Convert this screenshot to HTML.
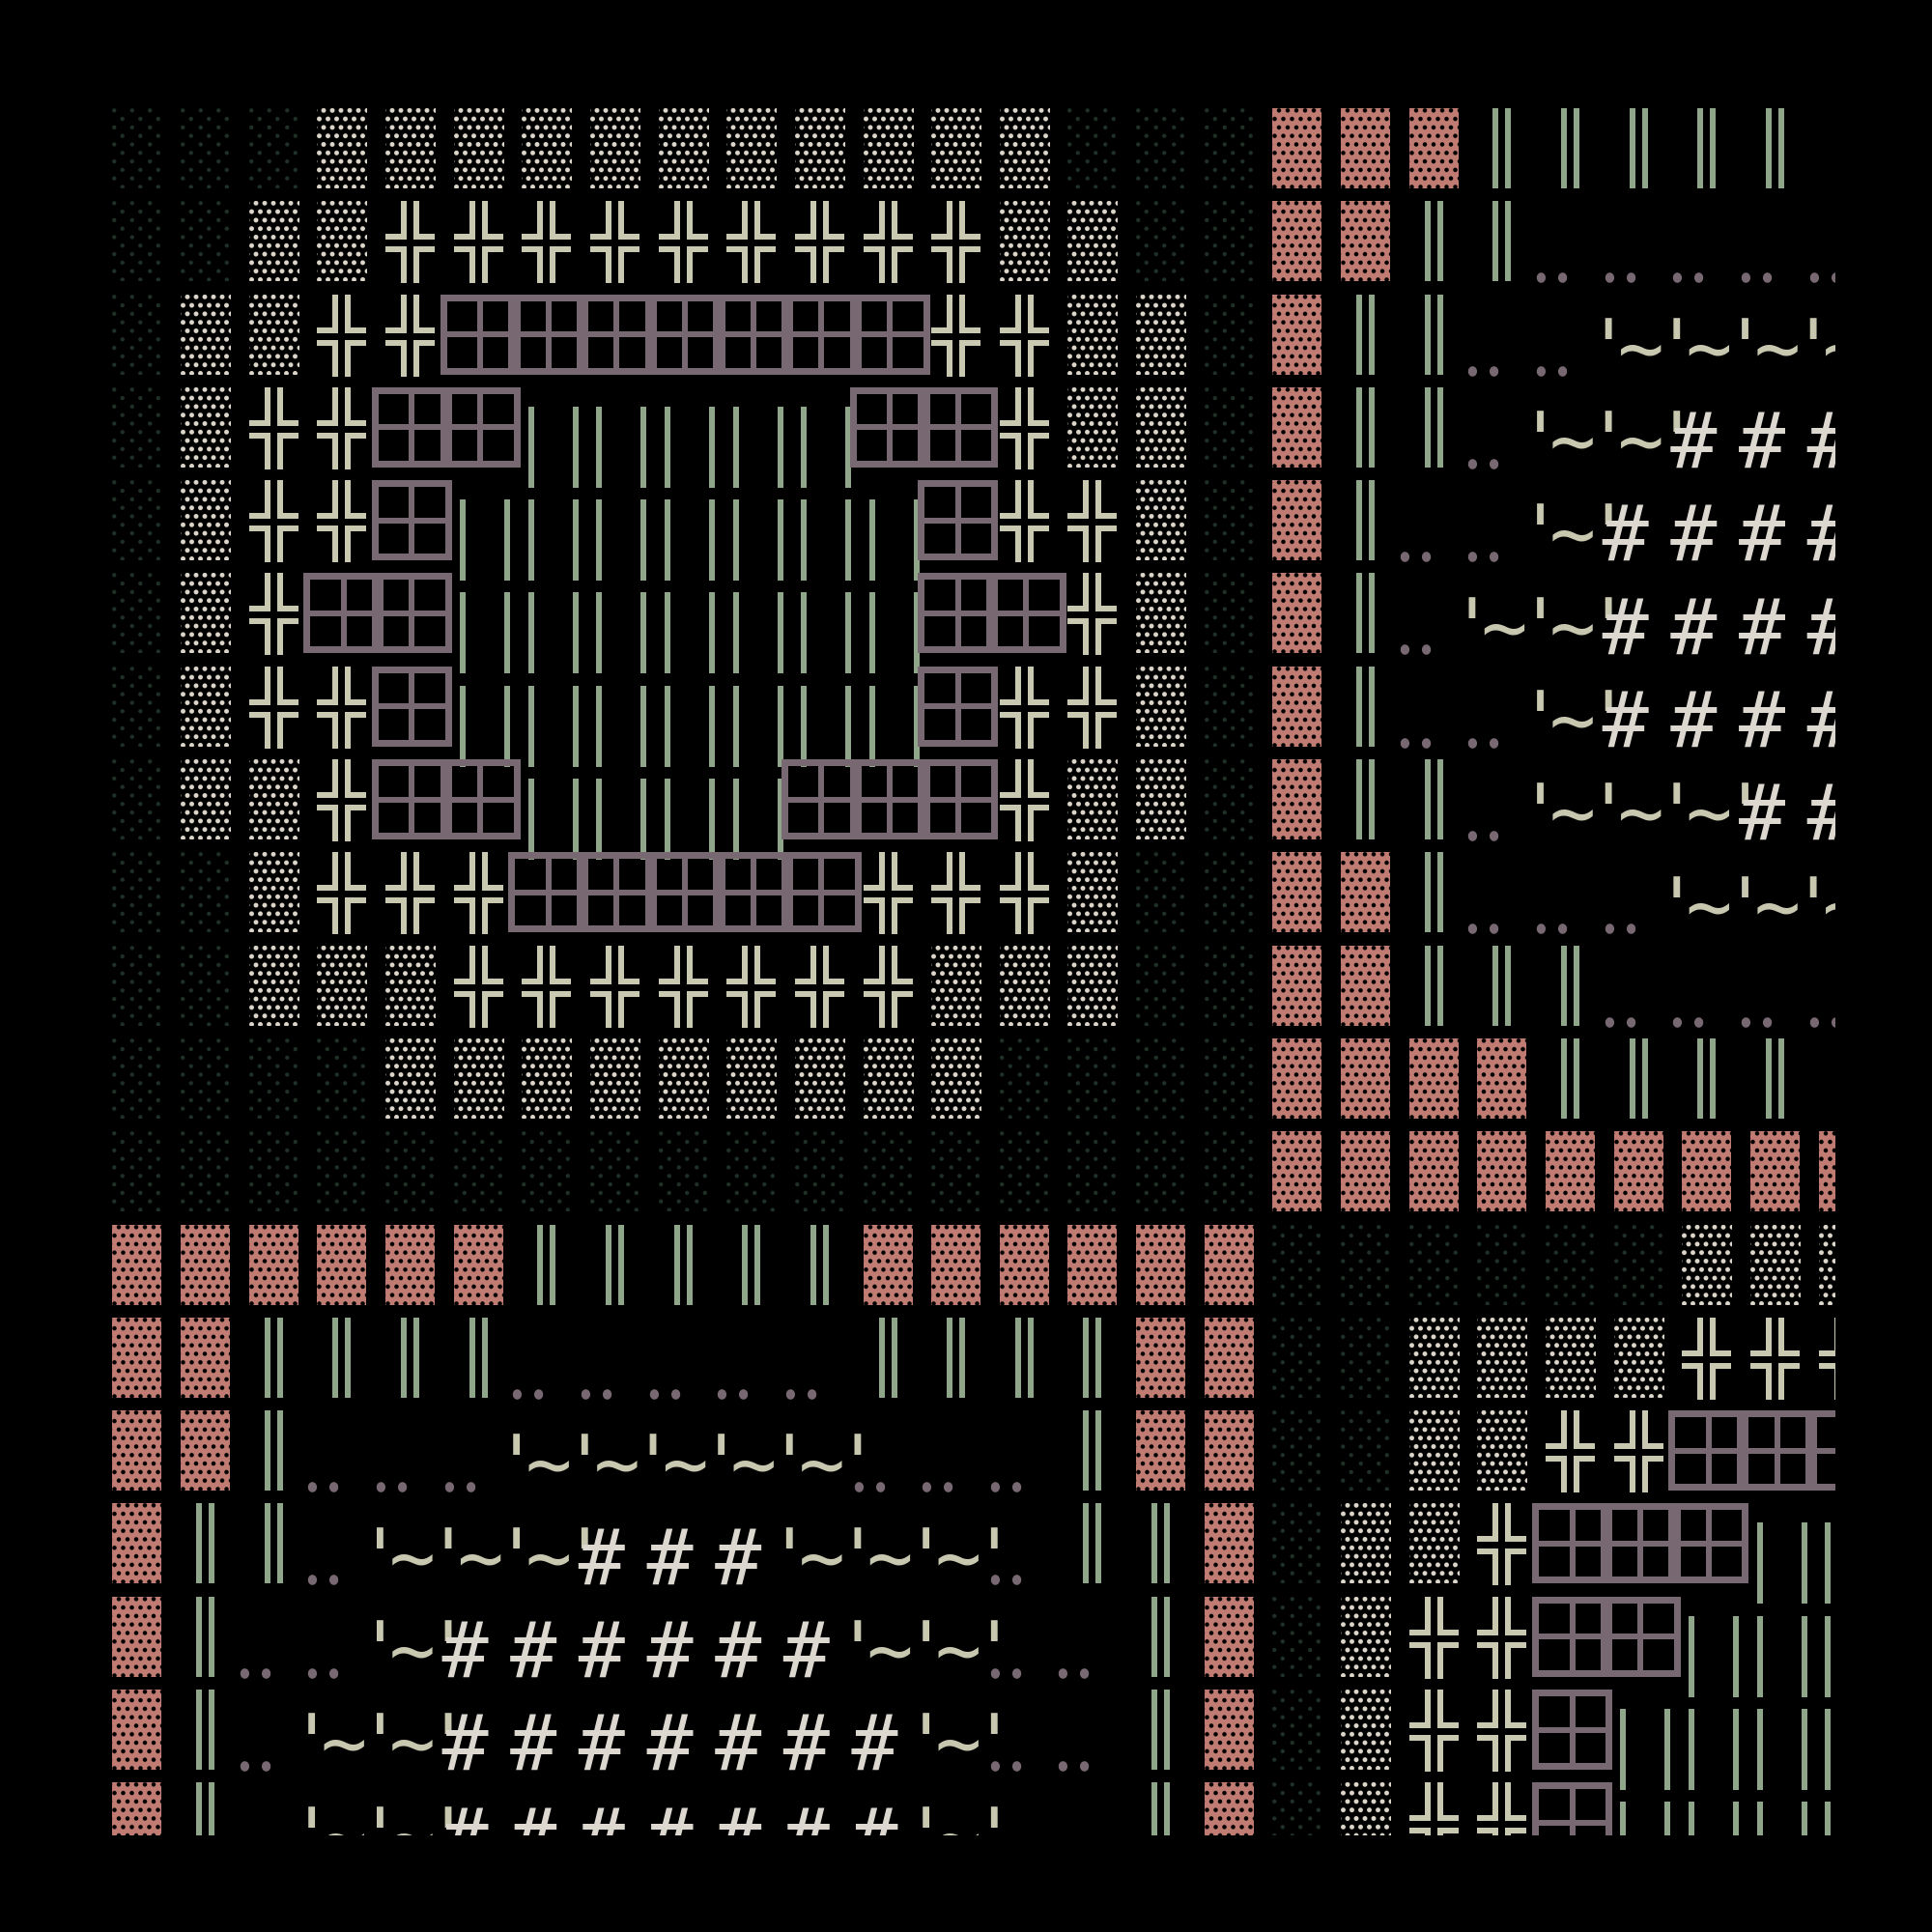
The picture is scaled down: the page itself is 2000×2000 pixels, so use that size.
<!DOCTYPE html>
<html><head><meta charset="utf-8"><style>
html,body{margin:0;padding:0;background:#000;}
body{width:2000px;height:2000px;overflow:hidden;position:relative;}
#g{position:absolute;left:102.3px;top:112px;width:1797.7px;height:1788px;overflow:hidden;display:grid;grid-template-columns:repeat(26,70.66px);grid-template-rows:repeat(19,96.3px);}
#g i{display:block;position:relative;font-style:normal;}
#g i::before{content:"";position:absolute;}
#g i:not([class])::before{display:none}
.d::before{left:14px;top:0;width:52px;height:83px;background:radial-gradient(circle,#1f3026 1.9px,#0000 2.4px) -7px -6.5px/18.5px 17.6px,radial-gradient(circle,#1f3026 1.9px,#0000 2.4px) 1.5px 2.3px/18.5px 17.6px;}
.w::before{left:14px;top:0;width:52px;height:83px;background:radial-gradient(circle,#dcd6ca 2.2px,#0000 2.7px) 2.5px -6.5px/9px 17.6px,radial-gradient(circle,#dcd6ca 2.2px,#0000 2.7px) -2px 2.3px/9px 17.6px;}
.p::before{left:14px;top:0;width:51px;height:83px;background:radial-gradient(circle,#000 2px,#0000 2.5px) 2.5px -6.5px/9px 17.6px,radial-gradient(circle,#000 2px,#0000 2.5px) -2px 2.3px/9px 17.6px,#c07c72;}
.x::before{left:0;top:0;width:70px;height:86px;background:
linear-gradient(#c9c8b0,#c9c8b0) 30px 0/6px 40px no-repeat,
linear-gradient(#c9c8b0,#c9c8b0) 43px 0/6px 40px no-repeat,
linear-gradient(#c9c8b0,#c9c8b0) 14px 34px/22px 6px no-repeat,
linear-gradient(#c9c8b0,#c9c8b0) 43px 34px/22px 6px no-repeat,
linear-gradient(#c9c8b0,#c9c8b0) 14px 47px/22px 6px no-repeat,
linear-gradient(#c9c8b0,#c9c8b0) 43px 47px/22px 6px no-repeat,
linear-gradient(#c9c8b0,#c9c8b0) 30px 47px/6px 38px no-repeat,
linear-gradient(#c9c8b0,#c9c8b0) 43px 47px/6px 38px no-repeat;}
.b::before{left:0;top:0;width:83px;height:83px;box-sizing:border-box;border:7px solid #786872;background:linear-gradient(#786872,#786872) center/6px 100% no-repeat,linear-gradient(#786872,#786872) center/100% 6px no-repeat;}
.v::before{left:30px;top:0;width:19px;height:83px;background:linear-gradient(#90a68a,#90a68a) 0 0/6px 100% no-repeat,linear-gradient(#90a68a,#90a68a) 13px 0/6px 100% no-repeat;}
.m::before{left:20.5px;top:20px;width:52px;height:84px;background:linear-gradient(#90a68a,#90a68a) 0 0/6px 100% no-repeat,linear-gradient(#90a68a,#90a68a) 46px 0/6px 100% no-repeat;}
.o::before{left:4px;top:74px;width:33px;height:11px;background:radial-gradient(4.8px 5.5px at 5.4px 5.5px,#786872 92%,#0000 100%),radial-gradient(4.8px 5.5px at 27.6px 5.5px,#786872 92%,#0000 100%);}
#g s,#g u,#g b{position:absolute;top:16.3px;width:48.2px;height:80px;text-align:center;font:normal 80px/80px "DejaVu Sans Mono","Liberation Mono",monospace;text-decoration:none;}
#g s{left:-15.6px;color:#c8c8b0;}
#g u{left:17.9px;color:#c8c8b0;}
#g b{left:1.9px;color:#dcd8d0;}
</style></head><body>
<div id="g">
<!-- R0 -->
<i class=d></i><i class=d></i><i class=d></i><i class=w></i><i class=w></i><i class=w></i><i class=w></i><i class=w></i><i class=w></i><i class=w></i><i class=w></i><i class=w></i><i class=w></i><i class=w></i><i class=d></i><i class=d></i><i class=d></i><i class=p></i><i class=p></i><i class=p></i><i class=v></i><i class=v></i><i class=v></i><i class=v></i><i class=v></i><i></i>
<!-- R1 -->
<i class=d></i><i class=d></i><i class=w></i><i class=w></i><i class=x></i><i class=x></i><i class=x></i><i class=x></i><i class=x></i><i class=x></i><i class=x></i><i class=x></i><i class=x></i><i class=w></i><i class=w></i><i class=d></i><i class=d></i><i class=p></i><i class=p></i><i class=v></i><i class=v></i><i class=o></i><i class=o></i><i class=o></i><i class=o></i><i class=o></i>
<!-- R2 -->
<i class=d></i><i class=w></i><i class=w></i><i class=x></i><i class=x></i><i class=b></i><i class=b></i><i class=b></i><i class=b></i><i class=b></i><i class=b></i><i class=b></i><i class=x></i><i class=x></i><i class=w></i><i class=w></i><i class=d></i><i class=p></i><i class=v></i><i class=v></i><i class=o></i><i class=o></i><i><s>'</s><u>~</u></i><i><s>'</s><u>~</u></i><i><s>'</s><u>~</u></i><i><s>'</s><u>~</u></i>
<!-- R3 -->
<i class=d></i><i class=w></i><i class=x></i><i class=x></i><i class=b></i><i class=b></i><i class=m></i><i class=m></i><i class=m></i><i class=m></i><i class=m></i><i class=b></i><i class=b></i><i class=x></i><i class=w></i><i class=w></i><i class=d></i><i class=p></i><i class=v></i><i class=v></i><i class=o></i><i><s>'</s><u>~</u></i><i><s>'</s><u>~</u></i><i><s>'</s><b>#</b></i><i><b>#</b></i><i><b>#</b></i>
<!-- R4 -->
<i class=d></i><i class=w></i><i class=x></i><i class=x></i><i class=b></i><i class=m></i><i class=m></i><i class=m></i><i class=m></i><i class=m></i><i class=m></i><i class=m></i><i class=b></i><i class=x></i><i class=x></i><i class=w></i><i class=d></i><i class=p></i><i class=v></i><i class=o></i><i class=o></i><i><s>'</s><u>~</u></i><i><s>'</s><b>#</b></i><i><b>#</b></i><i><b>#</b></i><i><b>#</b></i>
<!-- R5 -->
<i class=d></i><i class=w></i><i class=x></i><i class=b></i><i class=b></i><i class=m></i><i class=m></i><i class=m></i><i class=m></i><i class=m></i><i class=m></i><i class=m></i><i class=b></i><i class=b></i><i class=x></i><i class=w></i><i class=d></i><i class=p></i><i class=v></i><i class=o></i><i><s>'</s><u>~</u></i><i><s>'</s><u>~</u></i><i><s>'</s><b>#</b></i><i><b>#</b></i><i><b>#</b></i><i><b>#</b></i>
<!-- R6 -->
<i class=d></i><i class=w></i><i class=x></i><i class=x></i><i class=b></i><i class=m></i><i class=m></i><i class=m></i><i class=m></i><i class=m></i><i class=m></i><i class=m></i><i class=b></i><i class=x></i><i class=x></i><i class=w></i><i class=d></i><i class=p></i><i class=v></i><i class=o></i><i class=o></i><i><s>'</s><u>~</u></i><i><s>'</s><b>#</b></i><i><b>#</b></i><i><b>#</b></i><i><b>#</b></i>
<!-- R7 -->
<i class=d></i><i class=w></i><i class=w></i><i class=x></i><i class=b></i><i class=b></i><i class=m></i><i class=m></i><i class=m></i><i class=m></i><i class=b></i><i class=b></i><i class=b></i><i class=x></i><i class=w></i><i class=w></i><i class=d></i><i class=p></i><i class=v></i><i class=v></i><i class=o></i><i><s>'</s><u>~</u></i><i><s>'</s><u>~</u></i><i><s>'</s><u>~</u></i><i><s>'</s><b>#</b></i><i><b>#</b></i>
<!-- R8 -->
<i class=d></i><i class=d></i><i class=w></i><i class=x></i><i class=x></i><i class=x></i><i class=b></i><i class=b></i><i class=b></i><i class=b></i><i class=b></i><i class=x></i><i class=x></i><i class=x></i><i class=w></i><i class=d></i><i class=d></i><i class=p></i><i class=p></i><i class=v></i><i class=o></i><i class=o></i><i class=o></i><i><s>'</s><u>~</u></i><i><s>'</s><u>~</u></i><i><s>'</s><u>~</u></i>
<!-- R9 -->
<i class=d></i><i class=d></i><i class=w></i><i class=w></i><i class=w></i><i class=x></i><i class=x></i><i class=x></i><i class=x></i><i class=x></i><i class=x></i><i class=x></i><i class=w></i><i class=w></i><i class=w></i><i class=d></i><i class=d></i><i class=p></i><i class=p></i><i class=v></i><i class=v></i><i class=v></i><i class=o></i><i class=o></i><i class=o></i><i class=o></i>
<!-- R10 -->
<i class=d></i><i class=d></i><i class=d></i><i class=d></i><i class=w></i><i class=w></i><i class=w></i><i class=w></i><i class=w></i><i class=w></i><i class=w></i><i class=w></i><i class=w></i><i class=d></i><i class=d></i><i class=d></i><i class=d></i><i class=p></i><i class=p></i><i class=p></i><i class=p></i><i class=v></i><i class=v></i><i class=v></i><i class=v></i><i></i>
<!-- R11 -->
<i class=d></i><i class=d></i><i class=d></i><i class=d></i><i class=d></i><i class=d></i><i class=d></i><i class=d></i><i class=d></i><i class=d></i><i class=d></i><i class=d></i><i class=d></i><i class=d></i><i class=d></i><i class=d></i><i class=d></i><i class=p></i><i class=p></i><i class=p></i><i class=p></i><i class=p></i><i class=p></i><i class=p></i><i class=p></i><i class=p></i>
<!-- R12 -->
<i class=p></i><i class=p></i><i class=p></i><i class=p></i><i class=p></i><i class=p></i><i class=v></i><i class=v></i><i class=v></i><i class=v></i><i class=v></i><i class=p></i><i class=p></i><i class=p></i><i class=p></i><i class=p></i><i class=p></i><i class=d></i><i class=d></i><i class=d></i><i class=d></i><i class=d></i><i class=d></i><i class=w></i><i class=w></i><i class=w></i>
<!-- R13 -->
<i class=p></i><i class=p></i><i class=v></i><i class=v></i><i class=v></i><i class=v></i><i class=o></i><i class=o></i><i class=o></i><i class=o></i><i class=o></i><i class=v></i><i class=v></i><i class=v></i><i class=v></i><i class=p></i><i class=p></i><i class=d></i><i class=d></i><i class=w></i><i class=w></i><i class=w></i><i class=w></i><i class=x></i><i class=x></i><i class=x></i>
<!-- R14 -->
<i class=p></i><i class=p></i><i class=v></i><i class=o></i><i class=o></i><i class=o></i><i><s>'</s><u>~</u></i><i><s>'</s><u>~</u></i><i><s>'</s><u>~</u></i><i><s>'</s><u>~</u></i><i><s>'</s><u>~</u></i><i class=o><s>'</s></i><i class=o></i><i class=o></i><i class=v></i><i class=p></i><i class=p></i><i class=d></i><i class=d></i><i class=w></i><i class=w></i><i class=x></i><i class=x></i><i class=b></i><i class=b></i><i class=b></i>
<!-- R15 -->
<i class=p></i><i class=v></i><i class=v></i><i class=o></i><i><s>'</s><u>~</u></i><i><s>'</s><u>~</u></i><i><s>'</s><u>~</u></i><i><s>'</s><b>#</b></i><i><b>#</b></i><i><b>#</b></i><i><s>'</s><u>~</u></i><i><s>'</s><u>~</u></i><i><s>'</s><u>~</u></i><i class=o><s>'</s></i><i class=v></i><i class=v></i><i class=p></i><i class=d></i><i class=w></i><i class=w></i><i class=x></i><i class=b></i><i class=b></i><i class=b></i><i class=m></i><i class=m></i>
<!-- R16 -->
<i class=p></i><i class=v></i><i class=o></i><i class=o></i><i><s>'</s><u>~</u></i><i><s>'</s><b>#</b></i><i><b>#</b></i><i><b>#</b></i><i><b>#</b></i><i><b>#</b></i><i><b>#</b></i><i><s>'</s><u>~</u></i><i><s>'</s><u>~</u></i><i class=o><s>'</s></i><i class=o></i><i class=v></i><i class=p></i><i class=d></i><i class=w></i><i class=x></i><i class=x></i><i class=b></i><i class=b></i><i class=m></i><i class=m></i><i class=m></i>
<!-- R17 -->
<i class=p></i><i class=v></i><i class=o></i><i><s>'</s><u>~</u></i><i><s>'</s><u>~</u></i><i><s>'</s><b>#</b></i><i><b>#</b></i><i><b>#</b></i><i><b>#</b></i><i><b>#</b></i><i><b>#</b></i><i><b>#</b></i><i><s>'</s><u>~</u></i><i class=o><s>'</s></i><i class=o></i><i class=v></i><i class=p></i><i class=d></i><i class=w></i><i class=x></i><i class=x></i><i class=b></i><i class=m></i><i class=m></i><i class=m></i><i class=m></i>
<!-- R18 -->
<i class=p></i><i class=v></i><i></i><i><s>'</s><u>~</u></i><i><s>'</s><u>~</u></i><i><s>'</s><b>#</b></i><i><b>#</b></i><i><b>#</b></i><i><b>#</b></i><i><b>#</b></i><i><b>#</b></i><i><b>#</b></i><i><s>'</s><u>~</u></i><i><s>'</s></i><i></i><i class=v></i><i class=p></i><i class=d></i><i class=w></i><i class=x></i><i class=x></i><i class=b></i><i class=m></i><i class=m></i><i class=m></i><i class=m></i>
</div>
</body></html>
